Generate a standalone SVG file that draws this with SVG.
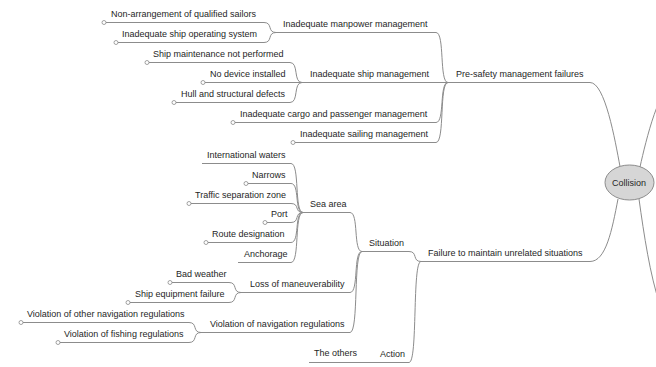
<svg xmlns="http://www.w3.org/2000/svg" width="656" height="367" viewBox="0 0 656 367">
  <style>
    text { font-family: "Liberation Sans", Arial, sans-serif; font-size: 9px; fill: #262626; }
    .ul { stroke: #8c8c8c; stroke-width: 1; fill: none; }
    .cn { stroke: #8c8c8c; stroke-width: 1; fill: none; }
    .dot { stroke: #8c8c8c; stroke-width: 0.8; fill: #ffffff; }
    .root { fill: #d6d6d6; stroke: #8c8c8c; stroke-width: 1; }
  </style>
  <rect width="656" height="367" fill="#ffffff"/>

  <!-- connectors between nodes -->
  <g id="connectors">
    <path class="cn" d="M590,82.5 C605,82.5 615,140 620,166.5"/>
    <path class="cn" d="M590,261.5 C606,261.5 612,230 618,199"/>
    <path class="cn" d="M640,167 C646,140 660,82 676,82"/>
    <path class="cn" d="M639,199 C644,235 650,275 660,305"/>

    <path class="cn" d="M436,32.5 C445,32.5 439,82.5 448,82.5"/>
    <path class="cn" d="M436,82.5 H448"/>
    <path class="cn" d="M436,122.5 C445,122.5 439,82.5 448,82.5"/>
    <path class="cn" d="M436,142.5 C445,142.5 439,82.5 448,82.5"/>

    <path class="cn" d="M264,22.5 C273,22.5 267,32.5 276,32.5"/>
    <path class="cn" d="M264,42.5 C273,42.5 267,32.5 276,32.5"/>

    <path class="cn" d="M290,62.5 C299,62.5 293,82.5 302,82.5"/>
    <path class="cn" d="M290,82.5 H302"/>
    <path class="cn" d="M290,102.5 C299,102.5 293,82.5 302,82.5"/>

    <path class="cn" d="M409,251.5 C418,251.5 412,261.5 421,261.5"/>
    <path class="cn" d="M409,362.5 C418,362.5 412,261.5 421,261.5"/>

    <path class="cn" d="M350,212.5 C359,212.5 353,251.5 362,251.5"/>
    <path class="cn" d="M350,292.5 C359,292.5 353,251.5 362,251.5"/>
    <path class="cn" d="M350,332.5 C359,332.5 353,251.5 362,251.5"/>

    <path class="cn" d="M291,163.5 C300,163.5 294,212.5 303,212.5"/>
    <path class="cn" d="M291,183.5 C300,183.5 294,212.5 303,212.5"/>
    <path class="cn" d="M291,203.5 C300,203.5 294,212.5 303,212.5"/>
    <path class="cn" d="M291,222.5 C300,222.5 294,212.5 303,212.5"/>
    <path class="cn" d="M291,242.5 C300,242.5 294,212.5 303,212.5"/>
    <path class="cn" d="M291,262.5 C300,262.5 294,212.5 303,212.5"/>

    <path class="cn" d="M229,282.5 C238,282.5 232,292.5 241,292.5"/>
    <path class="cn" d="M229,302.5 C238,302.5 232,292.5 241,292.5"/>

    <path class="cn" d="M189,322.5 C198,322.5 192,332.5 201,332.5"/>
    <path class="cn" d="M189,342.5 C198,342.5 192,332.5 201,332.5"/>

    <path class="cn" d="M366,362.5 H378"/>
  </g>

  <!-- central topic -->
  <g id="collision">
    <ellipse class="root" cx="629.5" cy="182.5" rx="24.5" ry="17.5"/>
    <text x="629" y="186" text-anchor="middle">Collision</text>
  </g>

  <!-- main branches -->
  <g id="pre-safety">
    <path class="ul" d="M448,82.5 H590"/>
    <text x="456" y="76.5">Pre-safety management failures</text>
  </g>
  <g id="failure-unrelated">
    <path class="ul" d="M421,261.5 H590"/>
    <text x="428" y="255.5">Failure to maintain unrelated situations</text>
  </g>

  <!-- pre-safety sub-branches -->
  <g id="manpower">
    <path class="ul" d="M276,32.5 H436"/>
    <text x="283" y="26.5">Inadequate manpower management</text>
  </g>
  <g id="ship-management">
    <path class="ul" d="M302,82.5 H436"/>
    <text x="310" y="76.5">Inadequate ship management</text>
  </g>
  <g id="cargo">
    <path class="ul" d="M233,122.5 H436"/>
    <circle class="dot" cx="233" cy="122.5" r="2"/>
    <text x="240" y="116.5">Inadequate cargo and passenger management</text>
  </g>
  <g id="sailing">
    <path class="ul" d="M293,142.5 H436"/>
    <circle class="dot" cx="293" cy="142.5" r="2"/>
    <text x="300" y="136.5">Inadequate sailing management</text>
  </g>

  <g id="non-arrangement">
    <path class="ul" d="M104,22.5 H264"/>
    <circle class="dot" cx="104" cy="22.5" r="2"/>
    <text x="111" y="16.5">Non-arrangement of qualified sailors</text>
  </g>
  <g id="operating-system">
    <path class="ul" d="M116,42.5 H264"/>
    <circle class="dot" cx="116" cy="42.5" r="2"/>
    <text x="122" y="36.5">Inadequate ship operating system</text>
  </g>

  <g id="maintenance">
    <path class="ul" d="M147,62.5 H290"/>
    <circle class="dot" cx="147" cy="62.5" r="2"/>
    <text x="153" y="56.5">Ship maintenance not performed</text>
  </g>
  <g id="no-device">
    <path class="ul" d="M203,82.5 H290"/>
    <circle class="dot" cx="203" cy="82.5" r="2"/>
    <text x="210" y="76.5">No device installed</text>
  </g>
  <g id="hull">
    <path class="ul" d="M174,102.5 H290"/>
    <circle class="dot" cx="174" cy="102.5" r="2"/>
    <text x="181" y="96.5">Hull and structural defects</text>
  </g>

  <!-- unrelated situations sub-branches -->
  <g id="situation">
    <path class="ul" d="M362,251.5 H409"/>
    <text x="369" y="245.5">Situation</text>
  </g>
  <g id="action">
    <path class="ul" d="M378,362.5 H409"/>
    <text x="380" y="356.5">Action</text>
  </g>
  <g id="the-others">
    <path class="ul" d="M309,362.5 H366"/>
    <text x="314" y="356">The others</text>
  </g>

  <g id="sea-area">
    <path class="ul" d="M303,212.5 H350"/>
    <text x="310" y="206.5">Sea area</text>
  </g>
  <g id="loss-maneuverability">
    <path class="ul" d="M241,292.5 H350"/>
    <text x="250" y="286.5">Loss of maneuverability</text>
  </g>
  <g id="violation-navigation">
    <path class="ul" d="M201,332.5 H350"/>
    <text x="210" y="326.5">Violation of navigation regulations</text>
  </g>

  <g id="international-waters">
    <path class="ul" d="M202,163.5 H291"/>
    <text x="207" y="157.5">International waters</text>
  </g>
  <g id="narrows">
    <path class="ul" d="M246,183.5 H291"/>
    <circle class="dot" cx="246" cy="183.5" r="2"/>
    <text x="252" y="177.5">Narrows</text>
  </g>
  <g id="traffic-separation">
    <path class="ul" d="M189,203.5 H291"/>
    <circle class="dot" cx="189" cy="203.5" r="2"/>
    <text x="195" y="197.5">Traffic separation zone</text>
  </g>
  <g id="port">
    <path class="ul" d="M265,222.5 H291"/>
    <circle class="dot" cx="265" cy="222.5" r="2"/>
    <text x="271" y="216.5">Port</text>
  </g>
  <g id="route-designation">
    <path class="ul" d="M206,242.5 H291"/>
    <circle class="dot" cx="206" cy="242.5" r="2"/>
    <text x="212" y="236.5">Route designation</text>
  </g>
  <g id="anchorage">
    <path class="ul" d="M238,262.5 H291"/>
    <text x="244" y="256.5">Anchorage</text>
  </g>

  <g id="bad-weather">
    <path class="ul" d="M170,282.5 H229"/>
    <circle class="dot" cx="170" cy="282.5" r="2"/>
    <text x="176" y="276.5">Bad weather</text>
  </g>
  <g id="equipment-failure">
    <path class="ul" d="M128,302.5 H229"/>
    <circle class="dot" cx="128" cy="302.5" r="2"/>
    <text x="135" y="296.5">Ship equipment failure</text>
  </g>

  <g id="other-navigation">
    <path class="ul" d="M21,322.5 H189"/>
    <circle class="dot" cx="21" cy="322.5" r="2"/>
    <text x="27" y="316.5">Violation of other navigation regulations</text>
  </g>
  <g id="fishing">
    <path class="ul" d="M58,342.5 H189"/>
    <circle class="dot" cx="58" cy="342.5" r="2"/>
    <text x="64" y="336.5">Violation of fishing regulations</text>
  </g>
</svg>
